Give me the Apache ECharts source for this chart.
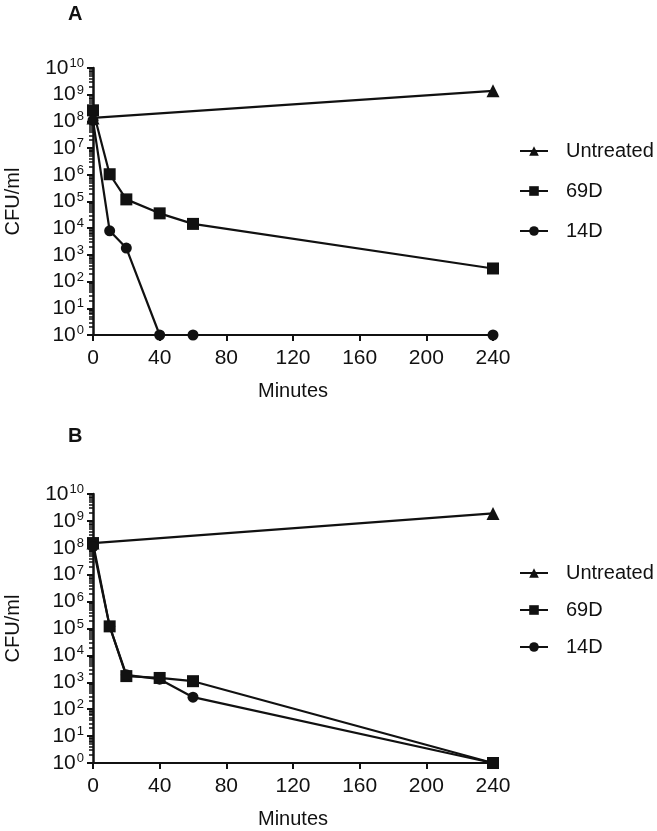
<!DOCTYPE html>
<html>
<head>
<meta charset="utf-8">
<script src="https://cdn.jsdelivr.net/npm/echarts@6/dist/echarts.min.js"></script>
<style>
  html, body { margin: 0; padding: 0; background: #fff; }
  #chart { width: 657px; height: 831px; }
</style>
</head>
<body>
<div id="chart"></div>
<script>
// sampling times (minutes)
const timeMinutes = [0, 10, 20, 40, 60, 240];
const untreatedMinutes = [0, 240];

// panel A (CFU/ml)
const untreatedA = [1.35e8, 1.4e9];
const d69A = [2.6e8, 1.05e6, 1.2e5, 3.6e4, 1.45e4, 3.1e2];
const d14A = [1.1e8, 8e3, 1.8e3, 1, 1, 1];

// panel B (CFU/ml)
const untreatedB = [1.5e8, 1.9e9];
const d69B = [1.5e8, 1.2e5, 1.7e3, 1.45e3, 1.1e3, 1];
const d14B = [1.1e8, 1.2e5, 1.9e3, 1.3e3, 2.8e2, 1];

const xTicks = [0, 40, 80, 120, 160, 200, 240];
const yExponents = [0, 1, 2, 3, 4, 5, 6, 7, 8, 9, 10];

const seriesNames = ['Untreated', '69D', '14D'];
const symbols = { 'Untreated': ['triangle', 13], '69D': ['rect', 12], '14D': ['circle', 11] };

const FONT = '"Liberation Sans", Arial, Helvetica, sans-serif';
const INK = '#111';

const majorValues = yExponents.map(e => Math.pow(10, e));
const minorValues = [];
yExponents.slice(0, -1).forEach(e => {
  for (let m = 2; m <= 9; m++) minorValues.push(m * Math.pow(10, e));
});

const pair = (xs, ys) => xs.map((x, i) => [x, ys[i]]);

const chart = echarts.init(document.getElementById('chart'), null, { renderer: 'canvas' });

const grids = [
  { left: 93, top: 68, width: 400, height: 267, outerBoundsMode: 'none', containLabel: false },
  { left: 93, top: 494, width: 400, height: 269, outerBoundsMode: 'none', containLabel: false }
];

function xAxisFor(gridIndex) {
  return {
    type: 'value', gridIndex, min: 0, max: 240, interval: 40,
    axisLabel: { customValues: xTicks, fontFamily: FONT, fontSize: 21, color: INK, margin: 13 },
    name: 'Minutes', nameLocation: 'middle', nameGap: 46,
    nameTextStyle: { fontFamily: FONT, fontSize: 20, color: INK },
    axisLine: { lineStyle: { color: INK, width: 2 } },
    axisTick: { show: true, length: 6, lineStyle: { color: INK, width: 2 } },
    splitLine: { show: false }
  };
}

function yAxisMajor(gridIndex) {
  return {
    type: 'log', gridIndex, logBase: 10, min: 1, max: 1e10, position: 'left',
    name: 'CFU/ml', nameLocation: 'middle', nameGap: 70, nameRotate: 90,
    nameTextStyle: { fontFamily: FONT, fontSize: 20, color: INK },
    axisLine: { show: true, lineStyle: { color: INK, width: 2.5 } },
    axisTick: { show: true, length: 6, customValues: majorValues, lineStyle: { color: INK, width: 2 } },
    axisLabel: {
      customValues: majorValues,
      margin: 9,
      formatter: v => '{b|10}{s|' + Math.round(Math.log10(v)) + '}',
      rich: {
        b: { fontFamily: FONT, fontSize: 21, color: INK, lineHeight: 22 },
        s: { fontFamily: FONT, fontSize: 13, color: INK, verticalAlign: 'top', lineHeight: 22, padding: [0, 0, 9, 1] }
      }
    },
    splitLine: { show: false }
  };
}

function yAxisMinor(gridIndex) {
  return {
    type: 'log', gridIndex, logBase: 10, min: 1, max: 1e10, position: 'left', offset: 0,
    axisLine: { show: false },
    axisTick: { show: true, length: 4, customValues: minorValues, lineStyle: { color: INK, width: 1.5 } },
    axisLabel: { show: false },
    splitLine: { show: false }
  };
}

function lineSeries(name, xIndex, yIndex, data) {
  return {
    name, type: 'line', xAxisIndex: xIndex, yAxisIndex: yIndex,
    data, clip: false,
    symbol: symbols[name][0], symbolSize: symbols[name][1],
    lineStyle: { color: INK, width: 2.2 },
    itemStyle: { color: INK },
    z: 3
  };
}

function legendFor(top, gap) {
  return {
    data: seriesNames, orient: 'vertical', left: 514, top, itemGap: gap,
    itemWidth: 28, itemHeight: 12, selectedMode: false,
    textStyle: { fontFamily: FONT, fontSize: 20, color: INK, padding: [0, 0, 0, 13], lineHeight: 20 }
  };
}

chart.setOption({
  backgroundColor: '#fff',
  animation: false,
  title: [
    { text: 'A', left: 63, top: -1, textStyle: { fontFamily: FONT, fontSize: 20, fontWeight: 'bold', color: INK } },
    { text: 'B', left: 63, top: 421, textStyle: { fontFamily: FONT, fontSize: 20, fontWeight: 'bold', color: INK } }
  ],
  grid: grids,
  xAxis: [xAxisFor(0), xAxisFor(1)],
  yAxis: [yAxisMajor(0), yAxisMinor(0), yAxisMajor(1), yAxisMinor(1)],
  legend: [legendFor(136, 20), legendFor(558, 17)],
  series: [
    lineSeries('Untreated', 0, 0, pair(untreatedMinutes, untreatedA)),
    lineSeries('69D', 0, 0, pair(timeMinutes, d69A)),
    lineSeries('14D', 0, 0, pair(timeMinutes, d14A)),
    lineSeries('Untreated', 1, 2, pair(untreatedMinutes, untreatedB)),
    lineSeries('69D', 1, 2, pair(timeMinutes, d69B)),
    lineSeries('14D', 1, 2, pair(timeMinutes, d14B))
  ]
});
</script>
</body>
</html>
